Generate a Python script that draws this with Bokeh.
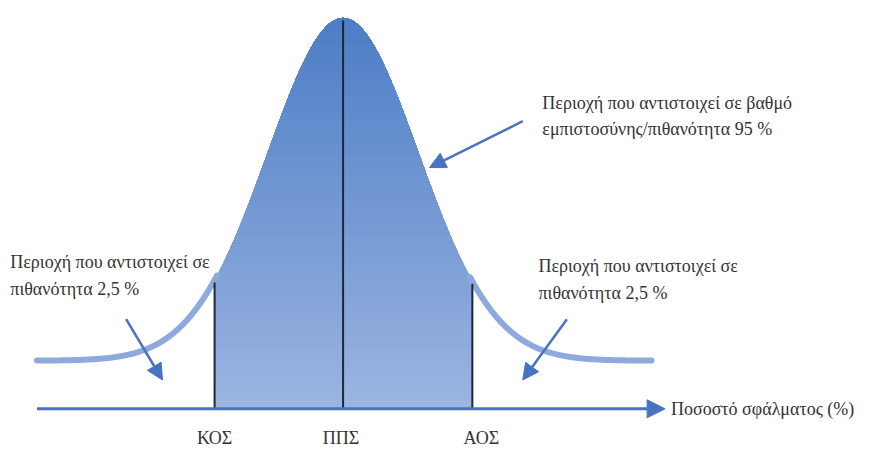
import numpy as np
from bokeh.plotting import figure
from bokeh.models import Range1d, Label, Arrow, NormalHead
from bokeh.embed import file_html
from bokeh.resources import INLINE

# ---- data ----
mean_z = 0.0
crit_low = -1.70      # ΚΟΣ
crit_high = 1.71      # ΑΟΣ
tail_start = -4.05
tail_end = 4.08
axis_end = 4.26
axis_level = -0.056
bottom_labels = ["ΚΟΣ", "ΠΠΣ", "ΑΟΣ"]
bottom_label_pos = [crit_low, mean_z, crit_high]
bottom_label_shift = [0, -2, 9]
left_text = ["Περιοχή που αντιστοιχεί σε", "πιθανότητα 2,5 %"]
right_text = ["Περιοχή που αντιστοιχεί σε", "πιθανότητα 2,5 %"]
top_text = ["Περιοχή που αντιστοιχεί σε βαθμό", "εμπιστοσύνης/πιθανότητα 95 %"]
axis_title = "Ποσοστό σφάλματος (%)"

# ---- layout helpers (reference px -> data) ----
PX0, PXS = 349.0, 77.0
PY0, PYS = 373.0, 889.9
def fx(px):
    return (px - PX0) / PXS
def fy(py):
    return (PY0 - py) / PYS

def pdf(z):
    return np.exp(-0.5 * z * z) / np.sqrt(2 * np.pi)

FONT = "Liberation Serif"
TXT = "#333333"
BLUE = "#4a72c2"

p = figure(width=856, height=450, output_backend="svg", toolbar_location=None,
           x_range=Range1d(fx(0), fx(872)), y_range=Range1d(fy(466), fy(0)),
           min_border=0, outline_line_color=None, background_fill_color="white",
           x_axis_location=None, y_axis_location=None)
p.grid.visible = False

# gradient fill between critical values
xs = np.linspace(crit_low, crit_high, 400)
ys = pdf(xs)
top_c = np.array([0x4e, 0x7e, 0xc6], float)
bot_c = np.array([0x9b, 0xb4, 0xe1], float)
N = 45
peak = pdf(0.0)
levels = np.linspace(axis_level, peak, N + 1)[:-1]
for i, L in enumerate(levels):
    t = i / (N - 1)
    c = bot_c + (top_c - bot_c) * t
    col = "#%02x%02x%02x" % tuple(int(round(v)) for v in c)
    p.varea(x=xs, y1=np.full_like(xs, L), y2=np.maximum(ys, L), fill_color=col)

# tails
xl = np.linspace(tail_start, crit_low + 0.03, 200)
xr = np.linspace(crit_high - 0.03, tail_end, 200)
p.line(xl, pdf(xl), line_color="#8eaadc", line_width=6, line_cap="round")
p.line(xr, pdf(xr), line_color="#8eaadc", line_width=6, line_cap="round")

# vertical lines
vx = [crit_low, mean_z, crit_high]
p.segment(x0=vx, y0=[axis_level] * 3, x1=vx, y1=[pdf(v) - 0.003 for v in vx],
          line_color="#1b2838", line_width=2)

# horizontal axis with arrow
p.add_layout(Arrow(x_start=tail_start, y_start=axis_level, x_end=axis_end, y_end=axis_level,
                   line_color=BLUE, line_width=3,
                   end=NormalHead(size=18, fill_color=BLUE, line_color=BLUE)))

# pointer arrows
def pointer(x0, y0, x1, y1):
    p.add_layout(Arrow(x_start=fx(x0), y_start=fy(y0), x_end=fx(x1), y_end=fy(y1),
                       line_color=BLUE, line_width=2.5,
                       end=NormalHead(size=16, fill_color=BLUE, line_color=BLUE)))
pointer(128, 330, 165, 393)
pointer(577, 330, 532, 393)
pointer(532, 125, 437, 173)

def lab(text, px, py, align="left", size="18px"):
    p.add_layout(Label(x=fx(px), y=fy(py), text=text, text_font=FONT, text_font_size=size,
                       text_color=TXT, text_align=align, text_baseline="middle"))

lab(left_text[0], 10, 271)
lab(left_text[1], 10, 299)
lab(right_text[0], 548, 275)
lab(right_text[1], 548, 303)
lab(top_text[0], 552, 106)
lab(top_text[1], 552, 133)
lab(axis_title, 683, 423)
for t, x, s in zip(bottom_labels, bottom_label_pos, bottom_label_shift):
    p.add_layout(Label(x=x, y=fy(453), x_offset=s, text=t, text_font=FONT, text_font_size="18px",
                       text_color=TXT, text_align="center", text_baseline="middle"))

open("out.html", "w").write(file_html(p, INLINE))
